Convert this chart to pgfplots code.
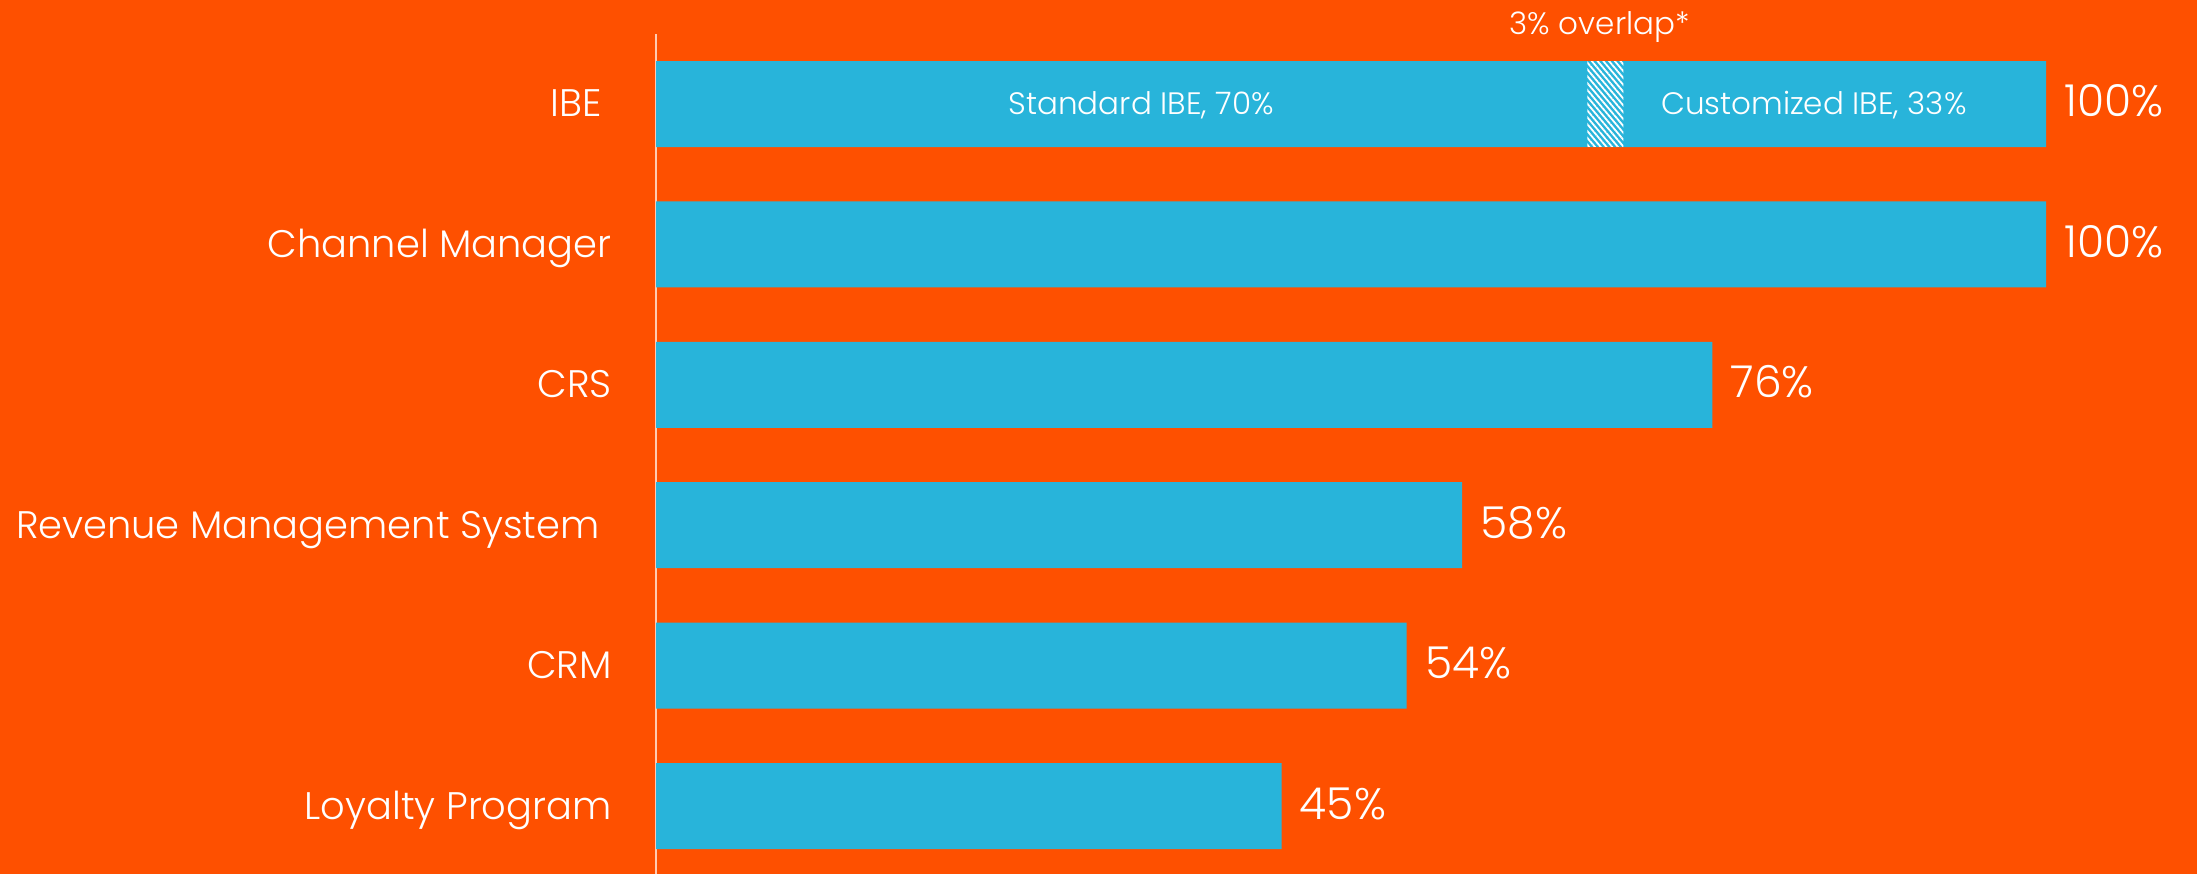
\documentclass[border=0pt]{standalone}
\usepackage{fontspec}
\IfFontExistsTF{Poppins Light}{\setmainfont{Poppins Light}}{\setmainfont{Poppins}}
\usepackage{pgfplots}
\pgfplotsset{compat=1.18}
\usetikzlibrary{patterns.meta}
\definecolor{bgorange}{RGB}{254,80,0}
\definecolor{barblue}{RGB}{40,180,218}
\begin{document}
\begin{tikzpicture}
\fill[bgorange] (0,0) rectangle (1098.5bp,437bp);
\begin{axis}[
  at={(328bp,0bp)}, anchor=south west,
  scale only axis, width=695bp, height=420bp,
  xmin=0, xmax=100,
  ymin=-0.4986, ymax=5.484, y dir=reverse,
  axis x line=none,
  axis y line*=left,
  y axis line style={-, color=white!70!bgorange, line width=0.7bp},
  ytick={0,1,2,3,4,5},
  yticklabels={IBE\hspace*{5bp}, Channel Manager, CRS, Revenue Management System\hspace*{6bp}, CRM, Loyalty Program},
  major tick length=0pt,
  yticklabel style={anchor=east, inner sep=0pt, xshift=-22bp, yshift=-3bp, text=white,
    font=\fontsize{19.2bp}{22bp}\selectfont, text height=0.7em, text depth=0pt},
  clip=false,
  /pgf/number format/assume math mode=true,
]
\addplot[xbar, bar width=43bp, bar shift=0pt, fill=barblue, draw=none,
  nodes near coords={\pgfmathprintnumber{\pgfplotspointmeta}\%},
  nodes near coords style={anchor=west, inner sep=0pt, xshift=9bp, yshift=-3bp, text=white,
    font=\fontsize{22bp}{24bp}\selectfont, text height=0.7em, text depth=0pt}]
  coordinates {(100,0) (100,1) (76,2) (58,3) (54,4) (45,5)};
\addplot[sharp plot, draw=none, pattern={Lines[angle=-50, distance=2.2bp, line width=0.9bp]}, pattern color=white]
  coordinates {(67,-0.306) (69.6,-0.306) (69.6,0.306) (67,0.306)} -- cycle;
\node[text=white, font=\fontsize{15.5bp}{18bp}\selectfont, text height=0.7em, text depth=0pt, inner sep=0pt, yshift=-2bp]
  at (axis cs:34.9,0) {Standard IBE, 70\%};
\node[text=white, font=\fontsize{15.5bp}{18bp}\selectfont, text height=0.7em, text depth=0pt, inner sep=0pt, yshift=-2bp]
  at (axis cs:83.3,0) {Customized IBE, 33\%};
\node[text=white, font=\fontsize{15.5bp}{18bp}\selectfont, text height=0.7em, text depth=0pt, inner sep=0pt, yshift=-2.5bp]
  at (axis cs:67.9,-0.577) {3\% overlap*};
\end{axis}
\end{tikzpicture}
\end{document}
